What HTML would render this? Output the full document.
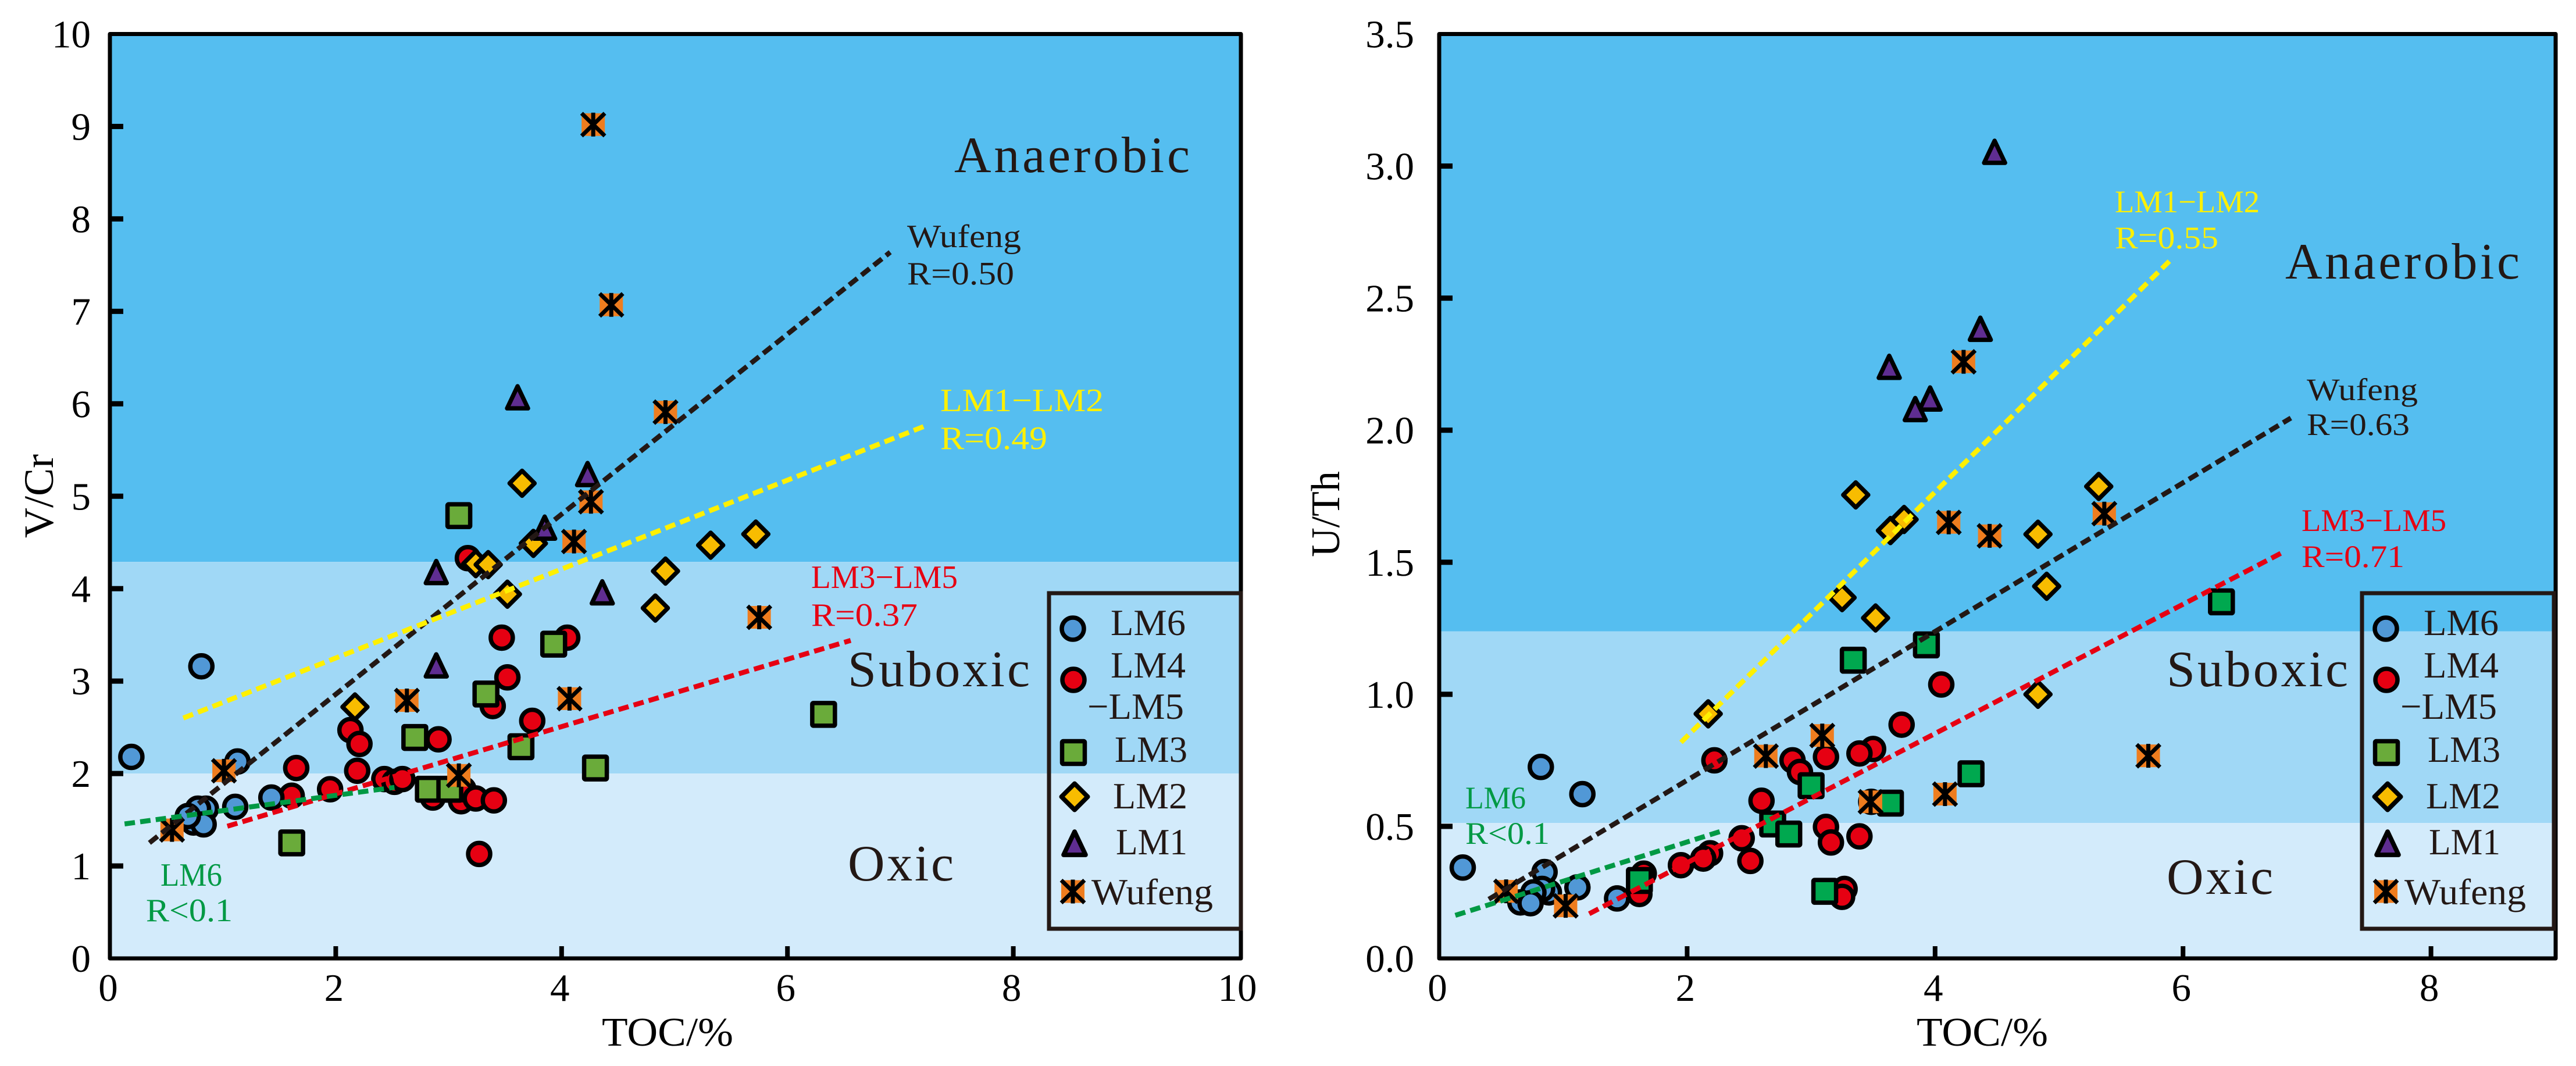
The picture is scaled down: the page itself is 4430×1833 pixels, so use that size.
<!DOCTYPE html>
<html lang="en">
<head>
<meta charset="utf-8">
<title>TOC versus V/Cr and U/Th redox scatter plots</title>
<style>
html,body{margin:0;padding:0;background:#fff;}
svg{display:block;}
text{font-family:"Liberation Serif",serif;}
</style>
</head>
<body>
<svg id="figure" xmlns="http://www.w3.org/2000/svg" width="4430" height="1833" viewBox="0 0 4430 1833"></svg>
<script>
// ---------- V/Cr chart data ----------
const vcrXTickLabels = ['0','2','4','6','8','10'];
const vcrYTickLabels = ['0','1','2','3','4','5','6','7','8','9','10'];
const vcrBandEdges = [4.29, 2.0];
const vcrLM6X = [0.19,0.81,1.13,1.11,1.43,0.85,0.78,0.74,0.83,0.69];
const vcrLM6Y = [2.18,3.16,2.13,1.64,1.74,1.62,1.62,1.47,1.45,1.54];
const vcrLM45X = [1.65,1.61,1.95,2.13,2.21,2.19,2.43,2.52,2.59,2.86,2.91,3.11,3.13,3.24,3.40,3.27,3.17,3.47,4.05,3.52,3.39,3.74];
const vcrLM45Y = [2.06,1.76,1.83,2.47,2.32,2.03,1.94,1.91,1.94,1.74,2.37,1.70,1.83,1.73,1.71,1.13,4.33,3.47,3.47,3.04,2.73,2.57];
const vcrLM3X = [1.61,2.70,2.82,3.01,3.33,3.64,3.93,4.30,6.32,3.09];
const vcrLM3Y = [1.25,2.39,1.83,1.83,2.86,2.29,3.40,2.06,2.64,4.79];
const vcrLM2X = [2.17,3.24,3.35,3.52,3.75,3.65,4.83,4.92,5.32,5.72];
const vcrLM2Y = [2.72,4.27,4.26,3.94,4.49,5.14,3.79,4.19,4.47,4.59];
const vcrLM1X = [3.61,4.23,3.85,2.89,2.89,4.36];
const vcrLM1Y = [6.07,5.24,4.66,4.18,3.17,3.96];
const vcrWufengX = [4.28,4.44,4.26,4.11,4.92,0.55,1.01,2.63,3.09,4.07,5.75];
const vcrWufengY = [9.02,7.07,4.94,4.51,5.91,1.39,2.03,2.79,1.98,2.81,3.69];
const vcrTrendWufengX = [0.35,6.91];
const vcrTrendWufengY = [1.25,7.64];
const vcrTrendLM12X = [0.65,7.24];
const vcrTrendLM12Y = [2.60,5.77];
const vcrTrendLM35X = [1.04,6.56];
const vcrTrendLM35Y = [1.43,3.44];
const vcrTrendLM6X = [0.13,2.52];
const vcrTrendLM6Y = [1.455,1.85];

// ---------- U/Th chart data ----------
const utXTickLabels = ['0','2','4','6','8'];
const utYTickLabels = ['0.0','0.5','1.0','1.5','2.0','2.5','3.0','3.5'];
const utBandEdges = [1.238, 0.513];
const utLM6X = [0.19,0.82,1.155,0.85,1.115,0.885,0.83,0.76,0.655,0.737,1.435];
const utLM6Y = [0.344,0.725,0.622,0.327,0.269,0.25,0.263,0.25,0.212,0.209,0.227];
const utLM45X = [2.22,2.85,2.91,3.12,3.50,3.39,3.73,4.05,2.60,2.44,2.51,2.185,2.13,1.95,1.65,1.615,3.12,3.16,3.39,3.27,3.25,3.485];
const utLM45Y = [0.75,0.75,0.706,0.763,0.793,0.776,0.885,1.037,0.597,0.455,0.369,0.398,0.378,0.353,0.321,0.244,0.498,0.439,0.462,0.263,0.233,0.593];
const utLM3X = [3.34,3.93,3.0,2.69,2.82,1.615,3.11,3.64,4.29,6.31];
const utLM3Y = [1.129,1.187,0.654,0.509,0.471,0.295,0.254,0.588,0.699,1.35];
const utLM2X = [2.17,3.25,3.52,3.36,3.75,3.64,5.32,4.83,4.90,4.83];
const utLM2Y = [0.926,1.366,1.289,1.755,1.662,1.62,1.787,1.606,1.409,1.0];
const utLM1X = [4.48,4.365,3.63,3.96,3.84];
const utLM1Y = [3.054,2.384,2.24,2.12,2.08];
const utWufengX = [4.23,4.11,4.44,5.365,0.54,1.02,2.635,3.09,3.48,4.08,5.72];
const utWufengY = [2.259,1.651,1.6,1.684,0.254,0.199,0.766,0.844,0.593,0.622,0.767];
const utTrendLM12X = [1.95,5.89];
const utTrendLM12Y = [0.818,2.64];
const utTrendWufengX = [0.40,6.87];
const utTrendWufengY = [0.224,2.046];
const utTrendLM35X = [1.21,6.81];
const utTrendLM35Y = [0.169,1.539];
const utTrendLM6X = [0.13,2.27];
const utTrendLM6Y = [0.163,0.481];

// ---------- palette ----------
const INK = '#231815';
const BLUE = '#5198D6', RED = '#E60012', OLIVE = '#6AAB3A', VIVID = '#00A84F';
const GOLD = '#F8BC00', PURPLE = '#5F2D91', ORANGE = '#EE7D1F';
const YELLOWLINE = '#FFF000', GREENLINE = '#009944';
const NS = 'http://www.w3.org/2000/svg';
const root = document.getElementById('figure');

function mk(parent, tag, attrs, name) {
  const el = document.createElementNS(NS, tag);
  for (const k in attrs) el.setAttribute(k, attrs[k]);
  
  
  parent.appendChild(el);
  return el;
}

function label(parent, x, y, str, size, fill, name, opt) {
  const o = opt || {};
  const attrs = {x: x, y: y, 'font-size': size, fill: fill};
  if (o.anchor) attrs['text-anchor'] = o.anchor;
  if (o.len) { attrs.textLength = o.len; attrs.lengthAdjust = o.adjust || 'spacingAndGlyphs'; }
  if (o.transform) attrs.transform = o.transform;
  const el = mk(parent, 'text', attrs, name);
  el.textContent = str;
  return el;
}

function marker(parent, kind, cx, cy, fill, name, s) {
  const k = s || 1;
  const g = mk(parent, 'g', {transform: 'translate(' + cx + ' ' + cy + ') scale(' + k + ')'}, name);
  if (kind === 'circle') {
    mk(g, 'circle', {r: 19, fill: fill, stroke: '#000', 'stroke-width': 7.5}, name + '-shape');
  } else if (kind === 'square') {
    mk(g, 'rect', {x: -19.5, y: -19.5, width: 39, height: 39, rx: 2, fill: fill, stroke: '#000', 'stroke-width': 7.5, 'stroke-linejoin': 'round'}, name + '-shape');
  } else if (kind === 'diamond') {
    mk(g, 'path', {d: 'M0 -21.5L21.5 0L0 21.5L-21.5 0Z', fill: fill, stroke: '#000', 'stroke-width': 7.5, 'stroke-linejoin': 'round'}, name + '-shape');
  } else if (kind === 'triangle') {
    mk(g, 'path', {d: 'M0 -19L18 19L-18 19Z', fill: fill, stroke: '#000', 'stroke-width': 7.5, 'stroke-linejoin': 'round'}, name + '-shape');
  } else {
    mk(g, 'rect', {x: -20, y: -19.5, width: 40, height: 39, fill: fill}, name + '-shape');
    mk(g, 'path', {d: 'M-20 -19.5L20 19.5M20 -19.5L-20 19.5M0 -20.5L0 20.5', fill: 'none', stroke: '#000', 'stroke-width': 7}, name + '-cross');
  }
  return g;
}

function drawChart(c) {
  const chart = mk(root, 'g', {}, c.key + '-chart');
  const xScale = v => c.px0 + (v - c.xMin) * (c.px1 - c.px0) / (c.xMax - c.xMin);
  const yScale = v => c.py0 + (v - c.yMin) * (c.py1 - c.py0) / (c.yMax - c.yMin);
  const xLeft = c.px0, xRight = c.spineRight, yTop = c.py1, yBottom = c.py0;

  // redox bands
  const bandTop = [c.yMax].concat(c.bandEdges);
  const bandBottom = c.bandEdges.concat([c.yMin]);
  const bandFills = ['#55BEF0', '#A0D8F6', '#D3EBFB'];
  const bandNames = ['anaerobic-band', 'suboxic-band', 'oxic-band'];
  bandTop.forEach((t, i) => {
    mk(chart, 'rect', {x: xLeft, y: yScale(t), width: xRight - xLeft, height: yScale(bandBottom[i]) - yScale(t), fill: bandFills[i]}, c.key + '-' + bandNames[i]);
  });

  // axes frame + ticks
  mk(chart, 'rect', {x: xLeft, y: yTop, width: xRight - xLeft, height: yBottom - yTop, fill: 'none', stroke: '#000', 'stroke-width': 7, 'stroke-linejoin': 'round'}, c.key + '-plot-frame');
  c.xTicks.forEach(t => {
    const v = Number(t);
    const x = xScale(v);
    if (v > c.xMin && v < c.xMax) {
      mk(chart, 'rect', {x: x - 4, y: yBottom - 21, width: 8, height: 21, fill: '#000'}, c.key + '-x-tick-' + t);
    }
    label(chart, x - 3, 1721, t, 67, '#000', c.key + '-x-tick-label-' + t, {anchor: 'middle'});
  });
  c.yTicks.forEach(t => {
    const v = Number(t);
    const y = yScale(v);
    if (v > c.yMin && v < c.yMax) {
      mk(chart, 'rect', {x: xLeft, y: y - 4.5, width: 23, height: 9, fill: '#000'}, c.key + '-y-tick-' + t);
    }
    label(chart, c.yLabelRight, y + 23, t, 67, '#000', c.key + '-y-tick-label-' + t, {anchor: 'end'});
  });

  // markers
  const marks = mk(chart, 'g', {}, c.key + '-markers');
  c.series.forEach(s => {
    s.x.forEach((xv, i) => {
      marker(marks, s.kind, xScale(xv), yScale(s.y[i]), s.fill, c.key + '-' + s.name + '-point-' + (i + 1));
    });
  });

  // trend lines
  c.trends.forEach(t => {
    mk(chart, 'line', {x1: xScale(t.x[0]), y1: yScale(t.y[0]), x2: xScale(t.x[1]), y2: yScale(t.y[1]), stroke: t.color, 'stroke-width': 8.5, 'stroke-dasharray': t.dash}, c.key + '-trend-' + t.name);
  });
}

function drawLegend(key, dx) {
  const g = mk(root, 'g', {transform: 'translate(' + dx + ' 0)'}, key + '-legend');
  mk(g, 'rect', {x: 1804, y: 1020, width: 330, height: 577, fill: 'none', stroke: INK, 'stroke-width': 7}, key + '-legend-box');
  marker(g, 'circle', 1845, 1081, BLUE, key + '-legend-marker-lm6', 1);
  marker(g, 'circle', 1846, 1169, RED, key + '-legend-marker-lm4-lm5', 1);
  marker(g, 'square', 1846, 1294, OLIVE, key + '-legend-marker-lm3', 1);
  marker(g, 'diamond', 1848, 1370, GOLD, key + '-legend-marker-lm2', 1.05);
  marker(g, 'triangle', 1848, 1450, PURPLE, key + '-legend-marker-lm1', 1.05);
  marker(g, 'cross', 1845, 1533, ORANGE, key + '-legend-marker-wufeng', 1);
  label(g, 1910, 1092, 'LM6', 64, INK, key + '-legend-label-lm6', {len: 129});
  label(g, 1910, 1165, 'LM4', 64, INK, key + '-legend-label-lm4', {len: 129});
  label(g, 1870, 1236, '\u2212LM5', 64, INK, key + '-legend-label-lm5', {len: 166});
  label(g, 1917, 1310, 'LM3', 64, INK, key + '-legend-label-lm3', {len: 125});
  label(g, 1914, 1390, 'LM2', 64, INK, key + '-legend-label-lm2', {len: 128});
  label(g, 1919, 1469, 'LM1', 64, INK, key + '-legend-label-lm1', {len: 123});
  label(g, 1877, 1555, 'Wufeng', 64, INK, key + '-legend-label-wufeng', {len: 209});
}

const dashBlack = '18 9', dashColor = '18 9';

drawChart({
  key: 'vcr',
  px0: 189, px1: 2131, spineRight: 2134, py0: 1648, py1: 58.5,
  xMin: 0, xMax: 10, yMin: 0, yMax: 10, yLabelRight: 156,
  xTicks: vcrXTickLabels, yTicks: vcrYTickLabels, bandEdges: vcrBandEdges,
  series: [
    {name: 'lm4-lm5', kind: 'circle', fill: RED, x: vcrLM45X, y: vcrLM45Y},
    {name: 'lm6', kind: 'circle', fill: BLUE, x: vcrLM6X, y: vcrLM6Y},
    {name: 'lm3', kind: 'square', fill: OLIVE, x: vcrLM3X, y: vcrLM3Y},
    {name: 'lm2', kind: 'diamond', fill: GOLD, x: vcrLM2X, y: vcrLM2Y},
    {name: 'lm1', kind: 'triangle', fill: PURPLE, x: vcrLM1X, y: vcrLM1Y},
    {name: 'wufeng', kind: 'cross', fill: ORANGE, x: vcrWufengX, y: vcrWufengY}
  ],
  trends: [
    {name: 'wufeng', color: INK, dash: dashBlack, x: vcrTrendWufengX, y: vcrTrendWufengY},
    {name: 'lm1-lm2', color: YELLOWLINE, dash: dashColor, x: vcrTrendLM12X, y: vcrTrendLM12Y},
    {name: 'lm3-lm5', color: RED, dash: dashColor, x: vcrTrendLM35X, y: vcrTrendLM35Y},
    {name: 'lm6', color: GREENLINE, dash: dashColor, x: vcrTrendLM6X, y: vcrTrendLM6Y}
  ]
});

drawChart({
  key: 'uth',
  px0: 2475, px1: 4393.8, spineRight: 4395, py0: 1648, py1: 58.5,
  xMin: 0, xMax: 9, yMin: 0, yMax: 3.5, yLabelRight: 2432,
  xTicks: utXTickLabels, yTicks: utYTickLabels, bandEdges: utBandEdges,
  series: [
    {name: 'lm4-lm5', kind: 'circle', fill: RED, x: utLM45X, y: utLM45Y},
    {name: 'lm6', kind: 'circle', fill: BLUE, x: utLM6X, y: utLM6Y},
    {name: 'lm3', kind: 'square', fill: VIVID, x: utLM3X, y: utLM3Y},
    {name: 'lm2', kind: 'diamond', fill: GOLD, x: utLM2X, y: utLM2Y},
    {name: 'lm1', kind: 'triangle', fill: PURPLE, x: utLM1X, y: utLM1Y},
    {name: 'wufeng', kind: 'cross', fill: ORANGE, x: utWufengX, y: utWufengY}
  ],
  trends: [
    {name: 'lm1-lm2', color: YELLOWLINE, dash: dashColor, x: utTrendLM12X, y: utTrendLM12Y},
    {name: 'wufeng', color: INK, dash: dashBlack, x: utTrendWufengX, y: utTrendWufengY},
    {name: 'lm3-lm5', color: RED, dash: dashColor, x: utTrendLM35X, y: utTrendLM35Y},
    {name: 'lm6', color: GREENLINE, dash: dashColor, x: utTrendLM6X, y: utTrendLM6Y}
  ]
});

drawLegend('vcr', 0);
drawLegend('uth', 2258);

// ---------- axis titles ----------
label(root, 1035, 1798, 'TOC/%', 70, '#000', 'vcr-x-axis-title', {len: 226});
label(root, 3296, 1798, 'TOC/%', 70, '#000', 'uth-x-axis-title', {len: 226});
label(root, 0, 0, 'V/Cr', 72, '#000', 'vcr-y-axis-title', {anchor: 'middle', transform: 'translate(91 853) rotate(-90)'});
label(root, 0, 0, 'U/Th', 70, '#000', 'uth-y-axis-title', {anchor: 'middle', transform: 'translate(2303 884) rotate(-90)'});

// ---------- redox zone labels ----------
label(root, 1641, 296, 'Anaerobic', 88, INK, 'vcr-anaerobic-label', {len: 405, adjust: 'spacing'});
label(root, 1458, 1180, 'Suboxic', 88, INK, 'vcr-suboxic-label', {len: 313, adjust: 'spacing'});
label(root, 1458, 1514, 'Oxic', 88, INK, 'vcr-oxic-label', {len: 182, adjust: 'spacing'});
label(root, 3930, 479, 'Anaerobic', 88, INK, 'uth-anaerobic-label', {len: 403, adjust: 'spacing'});
label(root, 3726, 1180, 'Suboxic', 88, INK, 'uth-suboxic-label', {len: 312, adjust: 'spacing'});
label(root, 3726, 1537, 'Oxic', 88, INK, 'uth-oxic-label', {len: 183, adjust: 'spacing'});

// ---------- trend annotations ----------
label(root, 1560, 425, 'Wufeng', 56, INK, 'vcr-wufeng-trend-name', {len: 196});
label(root, 1560, 489, 'R=0.50', 56, INK, 'vcr-wufeng-trend-r', {len: 184});
label(root, 1617, 707, 'LM1\u2212LM2', 56, YELLOWLINE, 'vcr-lm1-lm2-trend-name', {len: 281});
label(root, 1617, 772, 'R=0.49', 56, YELLOWLINE, 'vcr-lm1-lm2-trend-r', {len: 184});
label(root, 1395, 1011, 'LM3\u2212LM5', 56, RED, 'vcr-lm3-lm5-trend-name', {len: 252});
label(root, 1395, 1076, 'R=0.37', 56, RED, 'vcr-lm3-lm5-trend-r', {len: 183});
label(root, 276, 1523, 'LM6', 56, GREENLINE, 'vcr-lm6-trend-name', {len: 106});
label(root, 251, 1584, 'R<0.1', 56, GREENLINE, 'vcr-lm6-trend-r', {len: 149});
label(root, 3637, 365, 'LM1\u2212LM2', 54, YELLOWLINE, 'uth-lm1-lm2-trend-name', {len: 249});
label(root, 3637, 427, 'R=0.55', 54, YELLOWLINE, 'uth-lm1-lm2-trend-r', {len: 178});
label(root, 3967, 688, 'Wufeng', 54, INK, 'uth-wufeng-trend-name', {len: 191});
label(root, 3967, 748, 'R=0.63', 54, INK, 'uth-wufeng-trend-r', {len: 177});
label(root, 3958, 913, 'LM3\u2212LM5', 54, RED, 'uth-lm3-lm5-trend-name', {len: 249});
label(root, 3958, 975, 'R=0.71', 54, RED, 'uth-lm3-lm5-trend-r', {len: 177});
label(root, 2520, 1390, 'LM6', 54, GREENLINE, 'uth-lm6-trend-name', {len: 104});
label(root, 2520, 1451, 'R<0.1', 54, GREENLINE, 'uth-lm6-trend-r', {len: 145});
</script>
</body>
</html>
